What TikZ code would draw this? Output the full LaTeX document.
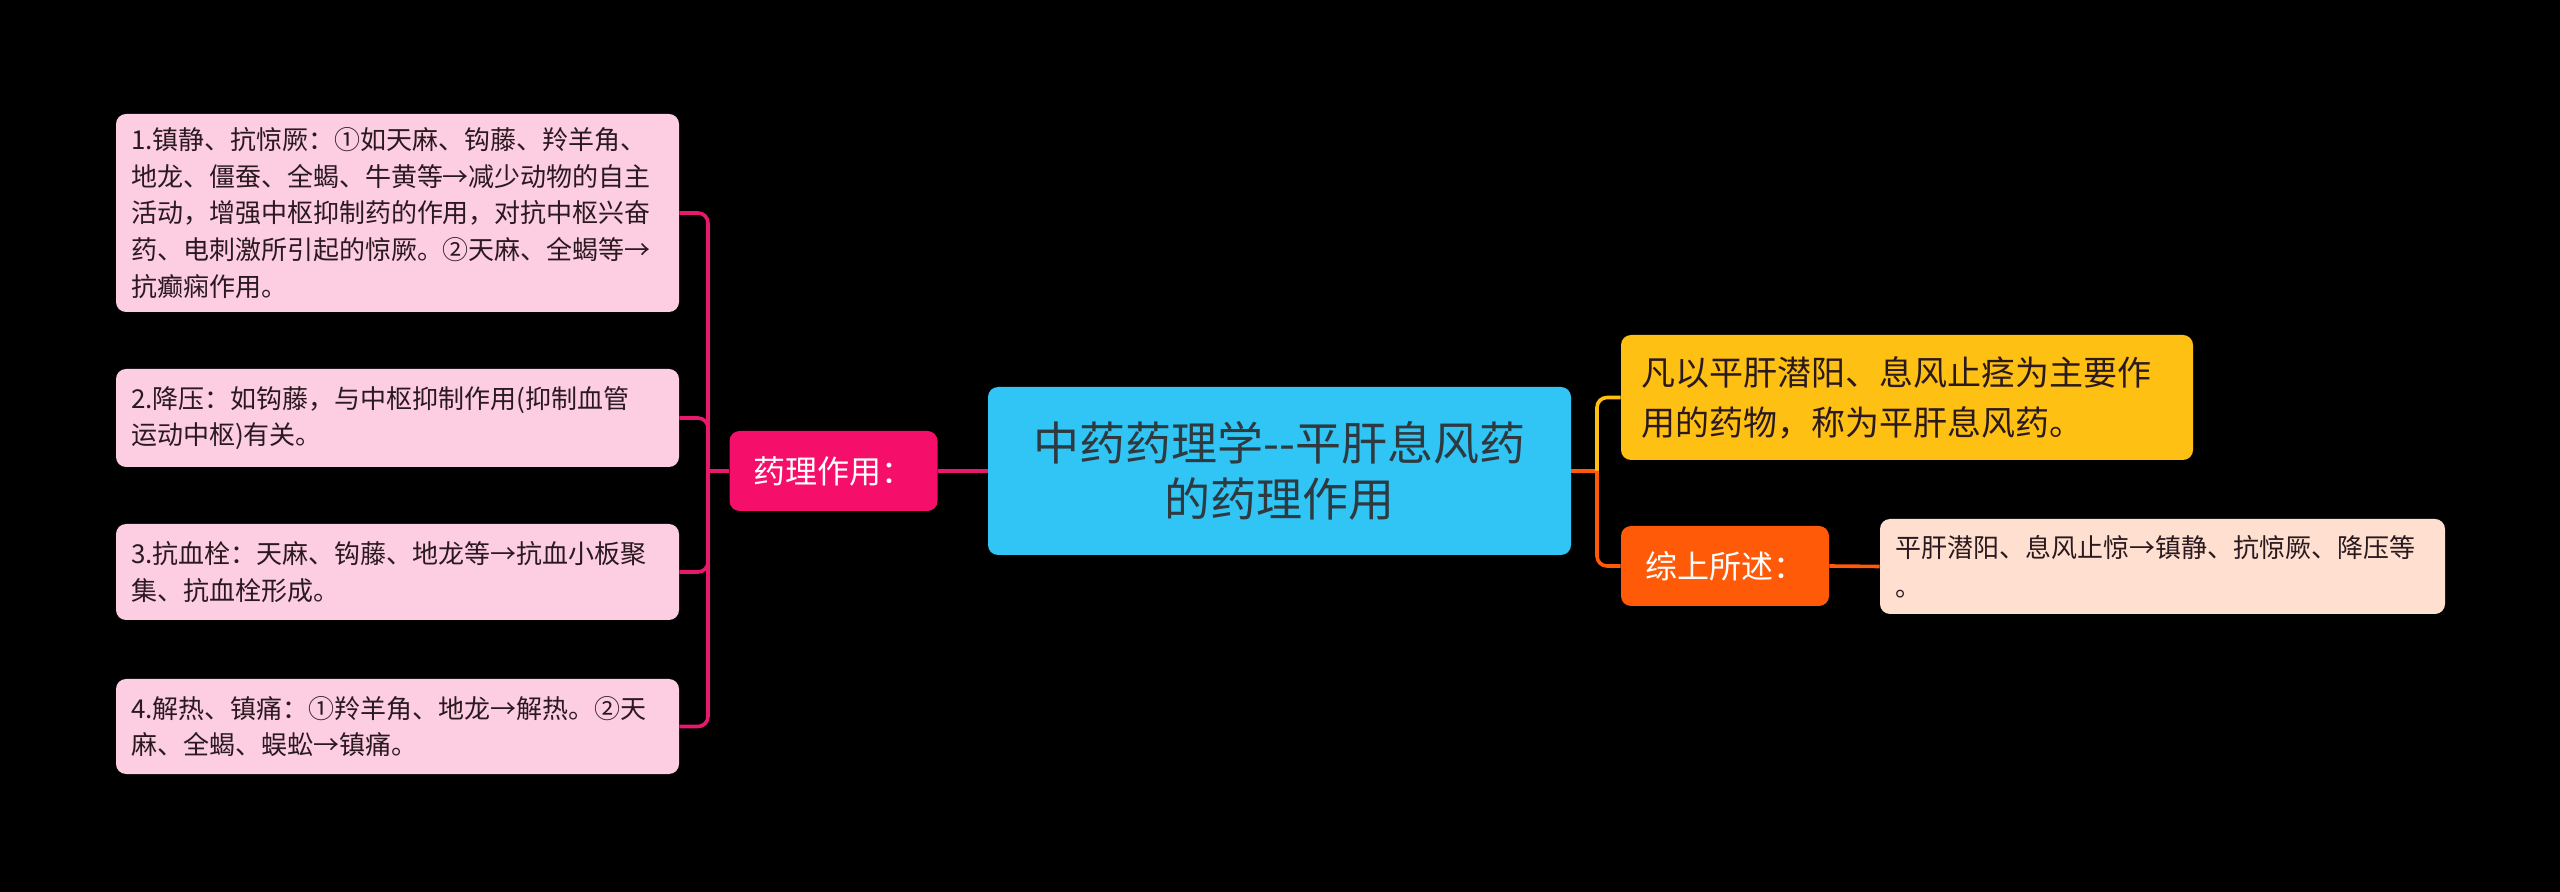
\documentclass[tikz,border=0pt]{standalone}
\usepackage{fontspec}
\setmainfont{Noto Sans CJK SC}
\usetikzlibrary{positioning}

\definecolor{leafpink}{HTML}{FDCDE2}
\definecolor{hotpink}{HTML}{F50F6B}
\definecolor{linkpink}{HTML}{E8186C}
\definecolor{rootblue}{HTML}{30C5F5}
\definecolor{defyellow}{HTML}{FEC012}
\definecolor{sumorange}{HTML}{FF5A08}
\definecolor{leafpeach}{HTML}{FEDFD0}
\definecolor{inkdark}{HTML}{2A1A20}
\definecolor{inkgray}{HTML}{2E3A40}

\begin{document}
\begin{tikzpicture}[
    x=0.5pt, y=-0.5pt,
    box/.style={rectangle, rounded corners=5pt, inner ysep=0pt, anchor=center},
    leaf/.style={box, fill=leafpink, text=inkdark, inner xsep=7.5pt, text width=266.5pt,
        align=left, font=\fontsize{13}{18.4}\selectfont},
    tag/.style={box, text=white, minimum width=104pt, minimum height=40pt, align=center,
        font=\fontsize{16}{20}\selectfont},
    pinkline/.style={draw=linkpink, line width=1.8pt, rounded corners=5pt},
    orangeline/.style={draw=sumorange, line width=1.8pt, rounded corners=5pt},
    yellowline/.style={draw=defyellow, line width=1.8pt, rounded corners=5pt}
]
    \fill[black] (0,0) rectangle (2560,892);
    \useasboundingbox (0,0) rectangle (2560,892);

    % centre and first level
    \node[box, fill=rootblue, text=inkgray, minimum width=291.5pt, minimum height=84pt,
        align=center, font=\fontsize{23}{28}\selectfont] (root) at (1279.5,471)
        {中药药理学-{}-平肝息风药\\的药理作用};
    \node[tag, fill=hotpink] (yl) at (833.5,471) {药理作用：};
    \node[box, fill=defyellow, text=inkdark, inner xsep=10pt, text width=266pt,
        minimum height=62.5pt, align=left, font=\fontsize{17}{25}\selectfont] (def) at (1907,397.5)
        {凡以平肝潜阳、息风止痉为主要作\\用的药物，称为平肝息风药。};
    \node[tag, fill=sumorange] (sum) at (1725,566) {综上所述：};

    % leaves
    \node[leaf, minimum height=99pt] (b1) at (397.5,213)
        {1.镇静、抗惊厥：①如天麻、钩藤、羚羊角、\\地龙、僵蚕、全蝎、牛黄等→减少动物的自主\\活动，增强中枢抑制药的作用，对抗中枢兴奋\\药、电刺激所引起的惊厥。②天麻、全蝎等→\\抗癫痫作用。};
    \node[leaf, minimum height=49pt] (b2) at (397.5,418)
        {2.降压：如钩藤，与中枢抑制作用(抑制血管\\运动中枢)有关。};
    \node[leaf, minimum height=48pt] (b3) at (397.5,572)
        {3.抗血栓：天麻、钩藤、地龙等→抗血小板聚\\集、抗血栓形成。};
    \node[leaf, minimum height=47.5pt] (b4) at (397.5,726.5)
        {4.解热、镇痛：①羚羊角、地龙→解热。②天\\麻、全蝎、蜈蚣→镇痛。};
    \node[leaf, fill=leafpeach, text width=267.5pt, minimum height=47.5pt,
        font=\fontsize{13}{19.5}\selectfont] (sumtxt) at (2162.5,566.5)
        {平肝潜阳、息风止惊→镇静、抗惊厥、降压等\\。};

    % connectors
    \coordinate (lj) at (708,471);
    \coordinate (rj) at (1597,471);
    \draw[pinkline] (yl.east) -- (root.west);
    \draw[pinkline] (yl.west) -- (lj);
    \foreach \b in {b1,b2,b3,b4}
        \draw[pinkline] (lj) |- (\b.east);
    \draw[orangeline] (root.east) -- (rj);
    \draw[yellowline] (rj) |- (def.west);
    \draw[orangeline] (rj) |- (sum.west);
    \draw[orangeline] (sum.east) -- (sumtxt.west);
\end{tikzpicture}
\end{document}
